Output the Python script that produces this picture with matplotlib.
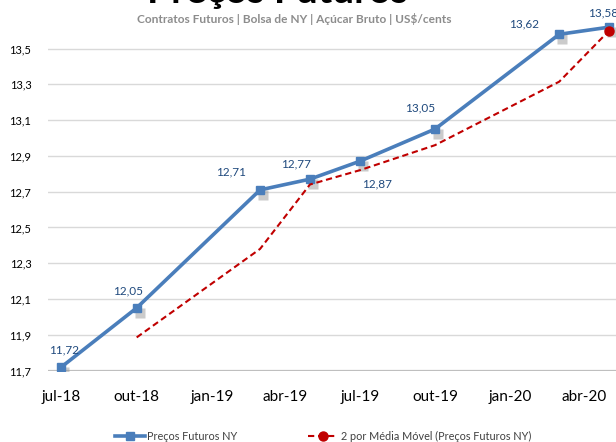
import pandas as pd
import matplotlib
matplotlib.use("Agg")
import matplotlib.pyplot as plt
from matplotlib.legend_handler import HandlerLine2D
from matplotlib.transforms import offset_copy
from matplotlib.ticker import FuncFormatter

plt.rcParams['font.family'] = ['Lato', 'DejaVu Sans']

# dados (vencimentos dos contratos)
datas = pd.to_datetime(['2018-07-01', '2018-10-01', '2019-03-01', '2019-05-01',
                        '2019-07-01', '2019-10-01', '2020-03-01', '2020-05-01'])
precos = [11.72, 12.05, 12.71, 12.77, 12.87, 13.05, 13.58, 13.62]
rotulos = ['11,72', '12,05', '12,71', '12,77', '12,87', '13,05', '13,62', '13,58']
meses = pd.date_range('2018-07-01', '2020-04-01', freq='3MS')
nomes_meses = ['jul-18', 'out-18', 'jan-19', 'abr-19', 'jul-19', 'out-19', 'jan-20', 'abr-20']
y_ticks = [11.7, 11.9, 12.1, 12.3, 12.5, 12.7, 12.9, 13.1, 13.3, 13.5]

media_movel = pd.Series(precos).rolling(2).mean()

# posicao dos rotulos (pixels em relacao ao ponto)
desloc = [(3, 17), (-9, 16.5), (-29.5, 18), (-14, 15), (17, -23), (-15, 21), (-35, 10), (-6, 14)]

azul = '#4A7EBB'
vermelho = '#C00000'

fig = plt.figure(figsize=(6.16, 4.42), dpi=100)
ax = fig.add_axes([48/616, 71.5/442, 568/616, 350.5/442])

for y in y_ticks[1:]:
    ax.axhline(y, color='#D9D9D9', lw=1, zorder=0)
ax.axhline(11.7, color='#BFBFBF', lw=1.6, zorder=1)

# sombra dos marcadores
sombra = offset_copy(ax.transData, fig=fig, x=3, y=-5, units='dots')
ax.plot(datas, precos, ls='none', marker='s', ms=7, color='#8c8c8c', alpha=0.45,
        mec='none', transform=sombra, zorder=2)

l1, = ax.plot(datas, precos, color=azul, lw=2.6, marker='s', ms=6, zorder=4,
              label='Preços Futuros NY')
l2, = ax.plot(datas, media_movel, color=vermelho, lw=1.5, ls=(0, (3, 1.8)), marker='o',
              ms=6.5, markevery=[-1], zorder=5,
              label='2 por Média Móvel (Preços Futuros NY)')

for d, v, t, (dx, dy) in zip(datas, precos, rotulos, desloc):
    ax.annotate(t, (d, v), xytext=(dx, dy), textcoords='offset pixels',
                ha='center', va='center', fontsize=8.5, color='#1F497D',
                annotation_clip=False, zorder=6)

base = pd.Timestamp('2018-07-01')
ax.set_xlim(base - pd.Timedelta(days=16.5), base + pd.Timedelta(days=678.5))
ax.set_ylim(11.7, 13.66)
ax.set_xticks(meses)
ax.set_xticklabels(nomes_meses, fontsize=11)
ax.set_yticks(y_ticks)
ax.yaxis.set_major_formatter(FuncFormatter(lambda v, p: f'{v:.1f}'.replace('.', ',')))
ax.tick_params(axis='y', labelsize=8, length=0, pad=12)
ax.tick_params(axis='x', length=0, pad=14)
for s in ax.spines.values():
    s.set_visible(False)
ax.set_facecolor('none')

fig.text(277/616, 1 - 2.6/442, 'Preços Futuros', ha='center', va='baseline',
         fontsize=28, fontweight='bold', color='black')
fig.text(294/616, 1 - 19/442, 'Contratos Futuros | Bolsa de NY | Açúcar Bruto | US$/cents',
         ha='center', va='center', fontsize=8.6, fontweight='bold', color='#8C8C8C')


class PontoFinal(HandlerLine2D):
    def get_xdata(self, legend, xdescent, ydescent, width, height, fontsize):
        xdata, _ = super().get_xdata(legend, xdescent, ydescent, width, height, fontsize)
        return xdata, [xdata[-1]]


leg = fig.legend([l1, l2], [l1.get_label(), l2.get_label()], loc='center',
                 bbox_to_anchor=(323/616, 1 - 436/442), ncol=2, frameon=False,
                 fontsize=7.8, handlelength=2.8, columnspacing=6.5, handletextpad=0.2,
                 handler_map={l2: PontoFinal()})
for t in leg.get_texts():
    t.set_color('#404040')

fig.savefig('out.png', dpi=100)
